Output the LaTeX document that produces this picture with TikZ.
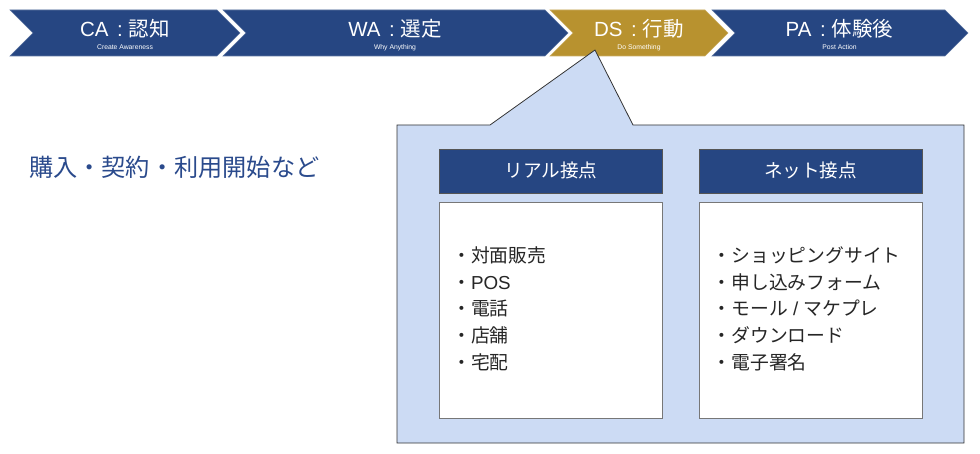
\documentclass[tikz,border=0pt]{standalone}
\usepackage{fontspec}
\setmainfont{Noto Sans CJK JP}
\newfontfamily\lat{Liberation Sans}
\definecolor{navy}{HTML}{264682}
\definecolor{gold}{HTML}{B8922F}
\definecolor{callbg}{HTML}{CCDBF4}
\definecolor{txtnavy}{HTML}{2A4A8C}
\definecolor{edgegray}{HTML}{555555}
\newcommand\mychev[3]{%
  \path[chevfill=#3] (#1,10) -- (#2,10) -- ({#2+23},33) -- (#2,56) -- (#1,56) -- ({#1+23},33) -- cycle;}
\newcommand\ttl[2]{{\lat #1}\hspace{8.5pt}{\lat :}\hspace{6pt}#2}
\begin{document}
\begin{tikzpicture}[x=1pt,y=-1pt]
\tikzset{
  chevfill/.style={fill=#1, draw=#1!75!white, line width=0.6pt},
  titletext/.style={text=white, inner sep=0pt, anchor=base, font=\fontsize{20.5}{24}\selectfont},
  subtext/.style={text=white, inner sep=0pt, anchor=base, font=\lat\fontsize{6.8}{8}\selectfont},
  hdrbox/.style={fill=navy, draw=edgegray, line width=0.8pt, minimum width=223pt, minimum height=44pt, inner sep=0pt},
  hdrtext/.style={text=white, inner sep=0pt, anchor=base, font=\fontsize{18.6}{22}\selectfont},
  listbox/.style={fill=white, draw=edgegray!80!white, line width=0.8pt, minimum width=223pt, minimum height=216pt, inner sep=0pt},
  itemtext/.style={text=black!85, inner sep=0pt, anchor=base west, font=\fontsize{18.8}{22}\selectfont},
  bigtext/.style={text=txtnavy, inner sep=0pt, anchor=base west, font=\fontsize{24.2}{28}\selectfont},
}
\useasboundingbox (0,0) rectangle (980,454);
% chevrons
\mychev{10}{217}{navy}
\mychev{223}{545}{navy}
\mychev{550}{705}{gold}
\mychev{712}{945}{navy}
\node[titletext] (ca) at (125,36.7) {\ttl{CA}{認知}};
\node[subtext] (cas) at (125,49.5) {Create Awareness};
\node[titletext] (wa) at (395,36.7) {\ttl{WA}{選定}};
\node[subtext] (was) at (395,49.5) {Why Anything};
\node[titletext] (ds) at (639,36.7) {\ttl{DS}{行動}};
\node[subtext] (dss) at (639,49.5) {Do Something};
\node[titletext] (pa) at (839.5,36.7) {\ttl{PA}{体験後}};
\node[subtext] (pas) at (839.5,49.5) {Post Action};
% callout
\coordinate (tip) at (595,50);
\draw[fill=callbg, draw=black!80, line width=0.8pt]
  (397,125) -- (490,125) -- (tip) -- (633,125) -- (964,125) -- (964,443) -- (397,443) -- cycle;
% left text
\node[bigtext] (lead) at (29,177) {購入・契約・利用開始など};
% headers
\node[hdrbox] (rh) at (551,171) {};
\node[hdrtext] (rht) at (551,178) {リアル接点};
\node[hdrbox] (nh) at (810.5,171) {};
\node[hdrtext] (nht) at (810.5,178) {ネット接点};
% list boxes
\node[listbox] (rb) at (551,310) {};
\node[listbox] (nb) at (810.5,310) {};
% left items
\node[itemtext] (r1) at (452,263) {・対面販売};
\node[itemtext] (r2) at (452,289.5) {・{\lat POS}};
\node[itemtext] (r3) at (452,316) {・電話};
\node[itemtext] (r4) at (452,342.5) {・店舗};
\node[itemtext] (r5) at (452,369) {・宅配};
% right items
\node[itemtext] (n1) at (712.5,263) {・ショッピングサイト};
\node[itemtext] (n2) at (712.5,289.5) {・申し込みフォーム};
\node[itemtext] (n3) at (712.5,316) {・モール{\lat\ /\ }マケプレ};
\node[itemtext] (n4) at (712.5,342.5) {・ダウンロード};
\node[itemtext] (n5) at (712.5,369) {・電子署名};
\end{tikzpicture}
\end{document}
